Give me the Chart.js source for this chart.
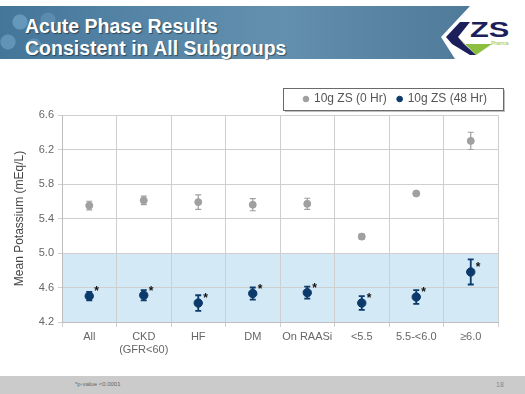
<!DOCTYPE html>
<html>
<head>
<meta charset="utf-8">
<script src="https://cdn.jsdelivr.net/npm/chart.js@4.4.0/dist/chart.umd.min.js"></script>
<style>
  html, body { margin: 0; padding: 0; background: #fff; }
  #page { position: relative; width: 525px; height: 394px; overflow: hidden; font-family: "Liberation Sans", Arial, sans-serif; }
  #banner {
    position: absolute; left: 0; top: 6px; width: 470px; height: 53px;
    background: linear-gradient(90deg, #44769a 0%, #5584a6 30%, #6390ae 60%, #4f7a99 100%);
    clip-path: polygon(0 0, 470px 0, 441px 31px, 455px 53px, 0 53px);
  }
  #banner .hex { position: absolute; left: 0; top: 0; width: 90px; height: 53px;
    background: radial-gradient(circle at 20px 16px, rgba(140,190,225,.45) 0 7px, transparent 8px),
                radial-gradient(circle at 8px 36px, rgba(140,190,225,.4) 0 7px, transparent 8px),
                radial-gradient(circle at 34px 40px, rgba(140,190,225,.3) 0 7px, transparent 8px),
                radial-gradient(circle at 48px 14px, rgba(140,190,225,.25) 0 7px, transparent 8px); }
  #title { position: absolute; left: 25px; top: 15px; color: #fff; font-weight: bold; font-size: 19.5px; line-height: 22px;
    text-shadow: 1px 1px 1px rgba(0,0,0,.45); }
  #logo { position: absolute; left: 438px; top: 10px; }
  #footer { position: absolute; left: 0; top: 376px; width: 525px; height: 18px; background: #cbcbcb; }
  #footer .note { position: absolute; left: 75px; top: 5px; font-size: 6px; color: #666; }
  #footer .num { position: absolute; left: 496px; top: 5px; font-size: 7px; color: #888; }
  #chart { position: absolute; left: 0; top: 0; }
</style>
</head>
<body>
<div id="page">
  <div id="banner"><div class="hex"></div></div>
  <div id="title">Acute Phase Results<br>Consistent in All Subgroups</div>
  <svg id="logo" width="87" height="50" viewBox="0 0 87 50">
    <polygon points="22,12 32,12 20,27 26,34 14,34 8,27" fill="#1c1f5c"/>
    <polygon points="20,27 26,34 54,34 38,45" fill="#8cbf3f"/>
    <polygon points="14,34 26,34 38,45 32,45" fill="#1c1f5c"/>
    <text x="0" y="27" transform="translate(32,0) scale(1.4,1)" font-family="Liberation Sans, Arial, sans-serif" font-weight="bold" font-size="22" fill="#1c1f5c">ZS</text>
    <text x="53" y="35" font-family="Liberation Sans, Arial, sans-serif" font-size="5" fill="#8cbf3f">Pharma</text>
  </svg>
  <div id="footer"><span class="note">*p-value &lt;0.0001</span><span class="num">18</span></div>
  <canvas id="chart" width="525" height="394"></canvas>
</div>
<script>
const categories = ['All', ['CKD', '(GFR<60)'], 'HF', 'DM', 'On RAASi', '<5.5', '5.5-<6.0', '≥6.0'];
const seriesNames = ['10g ZS (0 Hr)', '10g ZS (48 Hr)'];
const baseline = [5.55, 5.61, 5.59, 5.56, 5.57, 5.19, 5.69, 6.30];
const baselineErr = [0.05, 0.05, 0.085, 0.07, 0.065, 0.03, 0.015, 0.10];
const hr48 = [4.50, 4.51, 4.42, 4.53, 4.54, 4.42, 4.49, 4.78];
const hr48Err = [0.05, 0.06, 0.09, 0.07, 0.07, 0.08, 0.08, 0.145];
const yTicks = [4.2, 4.6, 5.0, 5.4, 5.8, 6.2, 6.6];
const normalBand = [4.2, 5.0];
const significant = [true, true, true, true, true, true, true, true];

const grayColor = '#a0a0a0';
const navyColor = '#0c3a6b';

// light blue band for the normal range, under the grid
const bandPlugin = {
  id: 'band',
  beforeDraw(chart) {
    const {ctx, chartArea, scales: {y}} = chart;
    const top = y.getPixelForValue(normalBand[1]);
    const bottom = y.getPixelForValue(normalBand[0]);
    ctx.save();
    ctx.fillStyle = '#d4e9f6';
    ctx.fillRect(chartArea.left, top, chartArea.right - chartArea.left, bottom - top);
    ctx.restore();
  }
};

// error bars + significance stars
const errorPlugin = {
  id: 'errors',
  beforeDatasetsDraw(chart) {
    const {ctx, scales: {y}} = chart;
    const errs = [baselineErr, hr48Err];
    ctx.save();
    chart.data.datasets.forEach((ds, i) => {
      const meta = chart.getDatasetMeta(i);
      ctx.strokeStyle = ds.borderColor;
      ctx.lineWidth = i === 0 ? 1.2 : 1.8;
      meta.data.forEach((pt, j) => {
        const v = ds.data[j];
        const hi = y.getPixelForValue(v + errs[i][j]);
        const lo = y.getPixelForValue(v - errs[i][j]);
        ctx.beginPath();
        ctx.moveTo(pt.x, hi); ctx.lineTo(pt.x, lo);
        ctx.moveTo(pt.x - 3, hi); ctx.lineTo(pt.x + 3, hi);
        ctx.moveTo(pt.x - 3, lo); ctx.lineTo(pt.x + 3, lo);
        ctx.stroke();
      });
    });
    ctx.restore();
  },
  afterDatasetsDraw(chart) {
    const {ctx} = chart;
    const meta = chart.getDatasetMeta(1);
    ctx.save();
    ctx.fillStyle = '#111';
    ctx.font = 'bold 12px "Liberation Sans", Arial, sans-serif';
    ctx.textAlign = 'left';
    ctx.textBaseline = 'middle';
    meta.data.forEach((pt, j) => {
      if (significant[j]) ctx.fillText('*', pt.x + 5, pt.y - 4);
    });
    ctx.restore();
  }
};

// bordered legend box with a soft shadow
const legendBoxPlugin = {
  id: 'legendBox',
  beforeDraw(chart) {
    const {ctx} = chart;
    const x = 283, yTop = 88, w = 220, h = 22;
    ctx.save();
    ctx.fillStyle = 'rgba(0,0,0,0.25)';
    ctx.fillRect(x + 2, yTop + 2, w, h);
    ctx.fillStyle = '#fff';
    ctx.fillRect(x, yTop, w, h);
    ctx.strokeStyle = '#6a6a6a';
    ctx.lineWidth = 1;
    ctx.strokeRect(x + 0.5, yTop + 0.5, w, h);
    ctx.restore();
  }
};

new Chart(document.getElementById('chart'), {
  type: 'line',
  data: {
    labels: categories,
    datasets: [
      { label: seriesNames[0], data: baseline, showLine: false, borderColor: grayColor, backgroundColor: grayColor,
        pointRadius: 3.5, pointHoverRadius: 3.5 },
      { label: seriesNames[1], data: hr48, showLine: false, borderColor: navyColor, backgroundColor: navyColor,
        pointRadius: 4.2, pointHoverRadius: 4.2 }
    ]
  },
  options: {
    responsive: false,
    animation: false,
    layout: { padding: { top: 82, right: 27, left: 0, bottom: 0 } },
    plugins: {
      tooltip: { enabled: false },
      legend: {
        position: 'top',
        align: 'end',
        labels: {
          usePointStyle: true, pointStyle: 'circle', boxWidth: 4, boxHeight: 4, padding: 11,
          color: '#555', font: { family: '"Liberation Sans", Arial, sans-serif', size: 12 }
        }
      }
    },
    scales: {
      x: {
        offset: true,
        grid: { offset: true, color: '#cfcfcf', tickLength: 5 },
        border: { color: '#bdbdbd' },
        ticks: { color: '#666', padding: 3, maxRotation: 0, autoSkip: false,
          font: { family: '"Liberation Sans", Arial, sans-serif', size: 11 } },
        afterFit(scale) { scale.height = 72; }
      },
      y: {
        min: yTicks[0], max: yTicks[yTicks.length - 1],
        afterBuildTicks(scale) { scale.ticks = yTicks.map(v => ({ value: v })); },
        grid: { color: '#cfcfcf', tickLength: 4 },
        border: { color: '#bdbdbd' },
        ticks: { color: '#666', padding: 4, callback: v => v.toFixed(1),
          font: { family: '"Liberation Sans", Arial, sans-serif', size: 11 } },
        title: { display: true, text: 'Mean Potassium (mEq/L)', color: '#444', padding: { top: 12, bottom: 0 },
          font: { family: '"Liberation Sans", Arial, sans-serif', size: 12 } },
        afterFit(scale) { scale.width = 62; }
      }
    }
  },
  plugins: [bandPlugin, legendBoxPlugin, errorPlugin]
});
</script>
</body>
</html>
